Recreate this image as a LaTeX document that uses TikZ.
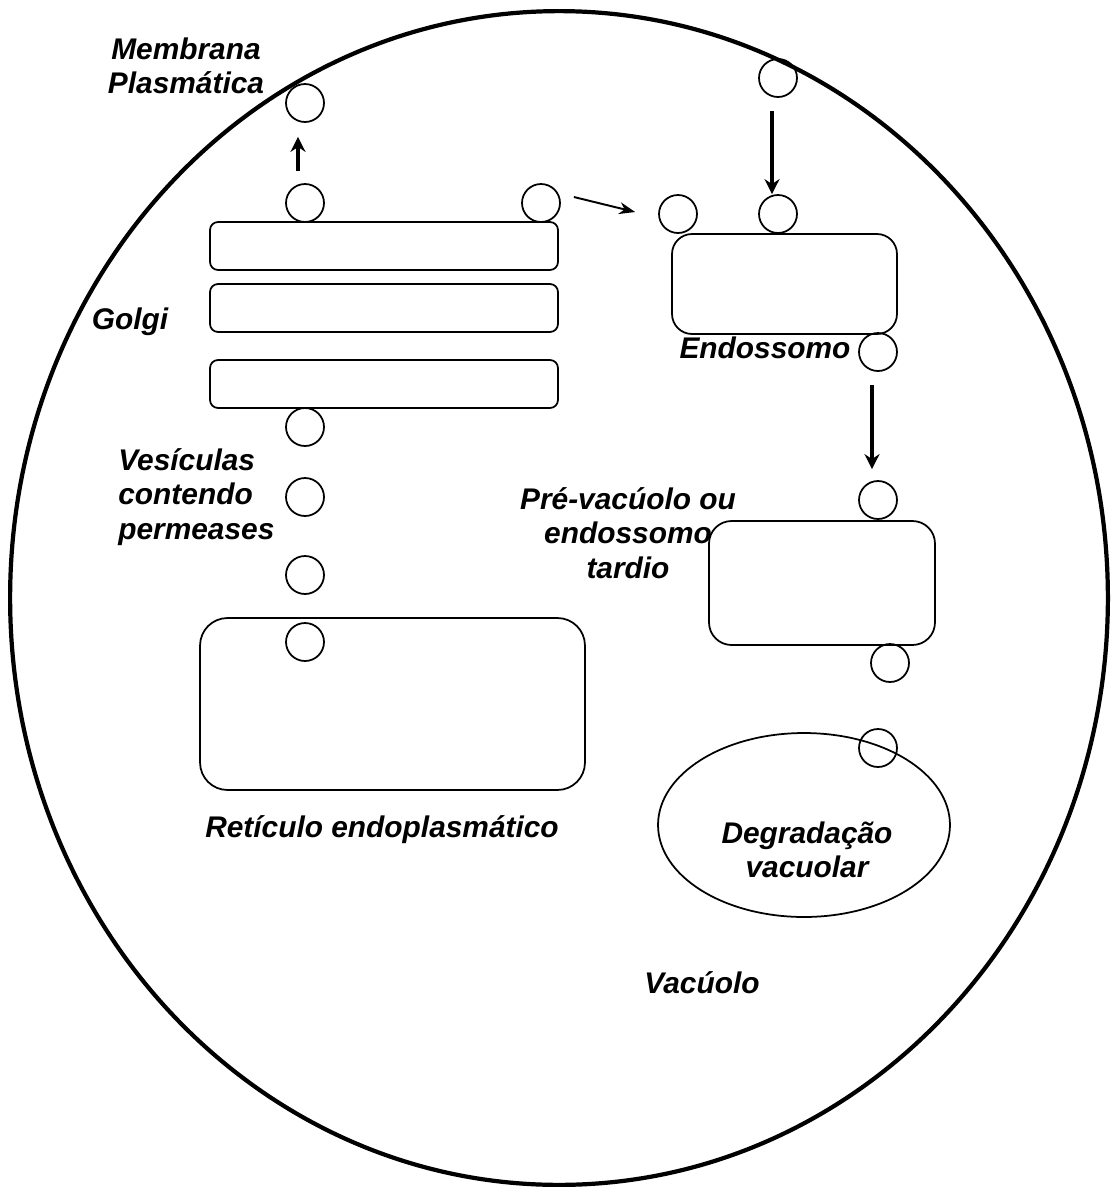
\documentclass[tikz,border=0pt]{standalone}
\usepackage{fontspec}
\setmainfont{Liberation Sans}
\usetikzlibrary{arrows.meta,shapes.geometric}
\begin{document}
\begin{tikzpicture}[x=0.02cm,y=-0.02cm,
  ves/.style={draw,circle,line width=1pt,inner sep=0pt,minimum size=.76cm},
  box/.style={draw,line width=1pt,inner sep=0pt},
  cist/.style={box,rounded corners=.16cm,minimum width=6.96cm,minimum height=.96cm},
  lbl/.style={font=\fontsize{17}{19.5}\selectfont\bfseries\itshape,align=center,inner sep=0pt},
  arr/.style={line width=1.8pt,-{Stealth[length=.3cm,width=.3cm]}}]
\useasboundingbox (0,0) rectangle (1110,1187);
\draw [line width=2.4pt] (559,598) ellipse [x radius=10.98cm, y radius=11.74cm];

\node [cist] (g1) at (384,246) {};
\node [cist] (g2) at (384,308) {};
\node [cist] (g3) at (384,384) {};
\node [box,rounded corners=.4cm,minimum width=4.5cm,minimum height=2cm] (endo) at (784.5,284) {};
\node [box,rounded corners=.45cm,minimum width=4.52cm,minimum height=2.48cm] (prev) at (822,583) {};
\node [box,rounded corners=.55cm,minimum width=7.7cm,minimum height=3.44cm] (re) at (392.5,704) {};
\node [box,ellipse,minimum width=5.84cm,minimum height=3.68cm] (vac) at (804,825) {};

\node [ves] (pm) at (305,103) {};
\node [ves] (gt) at (305,203) {};
\node [ves] (gr) at (541,203) {};
\node [ves] (gb) at (305,427) {};
\node [ves] (v1) at (305,497) {};
\node [ves] (v2) at (305,575) {};
\node [ves] (ret) at (305,642) {};
\node [ves] (mt) at (778,78) {};
\node [ves] (el) at (678,214) {};
\node [ves] (et) at (778,214) {};
\node [ves] (eb) at (878,352) {};
\node [ves] (pt) at (878,500) {};
\node [ves] (pb) at (890,663) {};
\node [ves] (vt) at (878,748) {};

\draw [arr,shorten <=.24cm,shorten >=.28cm] ([xshift=-.14cm]gt.north) -- ([xshift=-.14cm]pm.south);
\draw [line width=1.1pt,-{Stealth[length=.32cm,width=.24cm]}] ([xshift=.26cm,yshift=.12cm]gr.east) -- ([xshift=-.46cm,yshift=.04cm]el.west);
\draw [arr,shorten <=.26cm] ([xshift=-.12cm]mt.south) -- ([xshift=-.12cm]et.north);
\draw [arr,shorten <=.26cm,shorten >=.22cm] ([xshift=-.12cm]eb.south) -- ([xshift=-.12cm]pt.north);

\node [lbl] (lpm) at (186,66) {Membrana\\Plasmática};
\node [lbl] (lgo) at (130,322) {Golgi};
\node [lbl,align=left,anchor=west] (lves) at (118,497) {Vesículas\\contendo\\permeases};
\node [lbl] (lend) at (765,348) {Endossomo};
\node [lbl] (lprev) at (628,533) {Pré-vacúolo ou\\endossomo\\tardio};
\node [lbl] (lre) at (382,830) {Retículo endoplasmático};
\node [lbl] (ldeg) at (807,850) {Degradação\\vacuolar};
\node [lbl] (lvac) at (702,983) {Vacúolo};
\end{tikzpicture}
\end{document}
